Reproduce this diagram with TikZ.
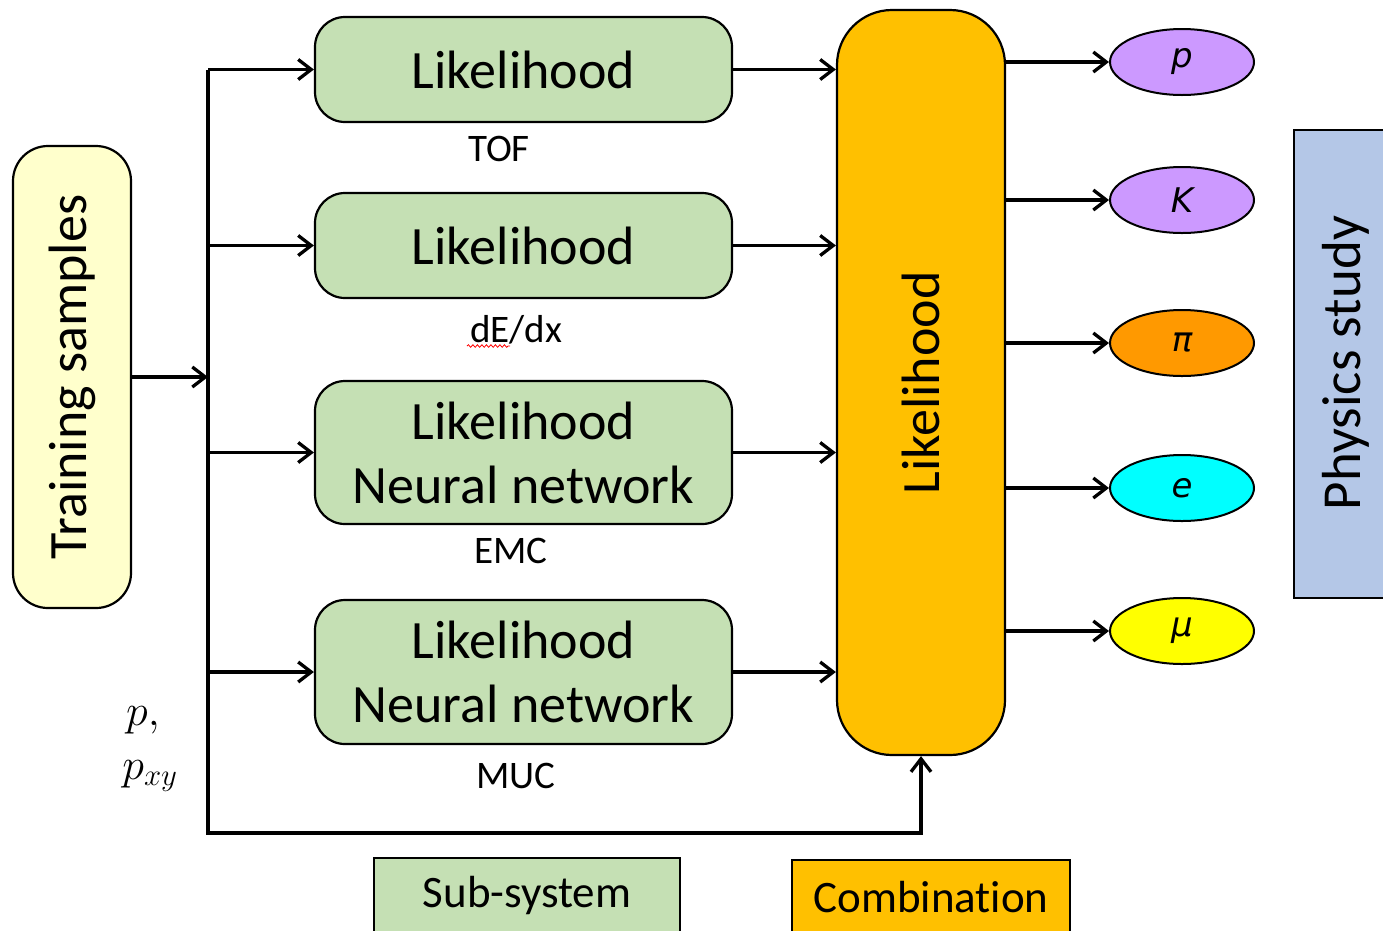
\documentclass[tikz,border=0pt]{standalone}
\usepackage{fix-cm}
\usepackage{fontspec}
\setmainfont[Ligatures={NoCommon}]{Carlito}
\newfontfamily\dvs{DejaVu Sans}
\usetikzlibrary{arrows.meta,decorations.pathmorphing,shapes.geometric}
\definecolor{sub}{HTML}{C5E0B4}
\definecolor{comb}{HTML}{FFC000}
\definecolor{train}{HTML}{FFFFCC}
\definecolor{phys}{HTML}{B4C7E7}
\definecolor{lav}{HTML}{CC99FF}
\definecolor{orng}{HTML}{FF9900}
\definecolor{cyn}{HTML}{00FFFF}
\definecolor{yel}{HTML}{FFFF00}
\tikzset{
  arr/.style={-{Straight Barb[length=13pt,width=20pt,line width=3.3pt]}, line width=3.3pt, line join=miter},
  subbox/.style={draw, line width=2.2pt, fill=sub, rounded corners=30pt, minimum width=417pt, inner sep=0pt, align=center,
     font=\fontsize{54}{64}\selectfont},
  lbl/.style={inner sep=0pt, font=\fontsize{39}{46}\selectfont},
  part/.style={draw, line width=2pt, ellipse, minimum width=144pt, minimum height=66pt, inner sep=0pt,
     font=\fontsize{34}{40}\dvs\itshape},
  legend/.style={draw, line width=1.5pt, minimum height=74pt, inner sep=0pt, font=\fontsize{45}{54}\selectfont}
}
\begin{document}
\begin{tikzpicture}[x=1pt,y=-1pt]
\clip (0,0) rectangle (1383,930);
\fill[white] (0,0) rectangle (1383,930);
% training samples
\node[draw, line width=2.2pt, fill=train, rounded corners=35pt, minimum width=118pt, minimum height=462pt, inner sep=0pt] (train) at (72,377) {};
\node[rotate=90, inner sep=0pt, font=\fontsize{54}{64}\selectfont] (traint) at (72,377) {Training samples};
% sub-systems
\node[subbox, minimum height=105pt] (b1) at (523.5,69.5) {Likelihood};
\node[subbox, minimum height=105pt] (b2) at (523.5,245.5) {Likelihood};
\node[subbox, minimum height=143pt] (b3) at (523.5,452.5) {Likelihood\\Neural network};
\node[subbox, minimum height=144pt] (b4) at (523.5,672) {Likelihood\\Neural network};
\node[lbl] (tof) at (499,149) {TOF};
\node[lbl] (dedx) at (516,330) {dE/dx};
\node[lbl] (emc) at (511,551) {EMC};
\node[lbl] (muc) at (516,776) {MUC};
\draw[red, line width=0.8pt, decorate, decoration={snake, amplitude=1.3pt, segment length=4.5pt}] (467,346) -- (510,346);
% combination
\node[draw, line width=2.2pt, fill=comb, rounded corners=55pt, minimum width=168pt, minimum height=745pt, inner sep=0pt] (comb) at (921,382.5) {};
\node[rotate=90, inner sep=0pt, font=\fontsize{54}{64}\selectfont] (combt) at (921,383) {Likelihood};
% particles
\node[part, fill=lav] (ep) at (1182,62) {p};
\node[part, fill=lav] (eK) at (1182,200) {K};
\node[part, fill=orng] (epi) at (1182,343) {π};
\node[part, fill=cyn] (ee) at (1182,488) {e};
\node[part, fill=yel] (emu) at (1182,631) {μ};
% physics study
\node[draw, line width=1.5pt, fill=phys, minimum width=101pt, minimum height=468pt, inner sep=0pt] (phys) at (1344.5,364) {};
\node[rotate=90, inner sep=0pt, font=\fontsize{55}{66}\selectfont] (physt) at (1346,363) {Physics study};
% legends
\node[legend, fill=sub, minimum width=306pt] (lsub) at (527,895) {Sub-system};
\node[legend, fill=comb, minimum width=278pt] (lcomb) at (931,897) {Combination};
% p labels
\node[inner sep=0pt, font=\fontsize{44}{52}\selectfont] (pl) at (143,720) {$p,$};
\node[inner sep=0pt, font=\fontsize{44}{52}\selectfont] (pxy) at (150,776) {$p_{xy}$};
% bus
\coordinate (bt) at (208,70);
\coordinate (bb) at (208,833);
\draw[arr] (bt) -- (bb) -| (comb.south);
\draw[arr] (train.east) -- (train.east -| bt);
\foreach \b in {b1,b2,b3,b4}{
  \draw[arr] (\b.west -| bt) -- (\b.west);
  \draw[arr] (\b.east) -- (\b.east -| comb.west);
}
\foreach \e in {ep,eK,epi,ee,emu}{
  \draw[arr] (\e.west -| comb.east) -- (\e.west);
}
\end{tikzpicture}
\end{document}
